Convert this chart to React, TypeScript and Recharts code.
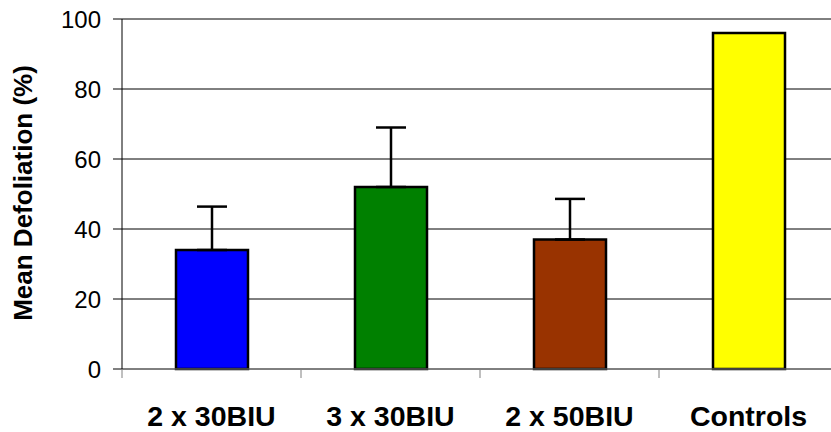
import React from "react";
import { BarChart, Bar, XAxis, YAxis, CartesianGrid, ErrorBar, Cell, Label } from "recharts";

const categories = ["2 x 30BIU", "3 x 30BIU", "2 x 50BIU", "Controls"];
const meanValues = [34, 52, 37, 96];
const upperErrors = [12.4, 17, 11.6, 0];
const barColors = ["#0000FF", "#008000", "#993300", "#FFFF00"];
const yTicks = [0, 20, 40, 60, 80, 100];

const data = categories.map((c, i) => ({
  name: c,
  value: meanValues[i],
  err: upperErrors[i] > 0 ? [0, upperErrors[i]] : undefined,
}));

const FONT = '"Liberation Sans", Arial, sans-serif';

const XTick = (props: any) => {
  const { x, y, payload } = props;
  const off = payload && typeof payload.offset === "number" ? payload.offset : 89.5;
  return (
    <g>
      <line x1={x - off} x2={x - off} y1={y - 9} y2={y} stroke="#808080" strokeWidth={1} />
      <text x={x} y={y + 48} textAnchor="middle" fontFamily={FONT} fontWeight="bold" fontSize={28.5} fill="#000">
        {payload.value}
      </text>
    </g>
  );
};

const YLabel = (props: any) => {
  const vb = props.viewBox || { x: 0, y: 19, width: 122, height: 350 };
  const cx = vb.x + 22.5;
  const cy = vb.y + vb.height / 2 - 1;
  return (
    <text
      x={cx}
      y={cy}
      transform={`rotate(-90, ${cx}, ${cy})`}
      textAnchor="middle"
      dominantBaseline="central"
      fontFamily={FONT}
      fontWeight="bold"
      fontSize={26}
      fill="#000"
    >
      Mean Defoliation (%)
    </text>
  );
};

export default function App() {
  return (
    <div style={{ position: "absolute", left: 0, top: 0, width: 831, height: 432, overflow: "hidden", background: "#fff" }}>
      <BarChart
        width={840}
        height={432}
        data={data}
        margin={{ top: 19, right: 2, left: 0, bottom: 0 }}
        barSize={72}
        style={{ fontFamily: FONT }}
      >
        <CartesianGrid horizontal vertical={false} stroke="#000" strokeWidth={1} />
        <XAxis
          dataKey="name"
          height={63}
          tickLine={false}
          tickSize={9}
          tickMargin={0}
          axisLine={{ stroke: "#808080", strokeWidth: 1 }}
          tick={<XTick />}
          interval={0}
        />
        <YAxis
          width={122}
          domain={[0, 100]}
          ticks={yTicks}
          interval={0}
          tickSize={9}
          tickMargin={12}
          axisLine={{ stroke: "#000", strokeWidth: 1 }}
          tickLine={{ stroke: "#000", strokeWidth: 1 }}
          tick={{ fill: "#000", fontSize: 24, fontFamily: FONT }}
          label={<Label content={<YLabel />} />}
        />
        <Bar dataKey="value" stroke="#000" strokeWidth={2.5} isAnimationActive={false}>
          {data.map((d, i) => (
            <Cell key={d.name} fill={barColors[i]} />
          ))}
          <ErrorBar dataKey="err" width={15} stroke="#000" strokeWidth={2.5} isAnimationActive={false} />
        </Bar>
      </BarChart>
    </div>
  );
}
